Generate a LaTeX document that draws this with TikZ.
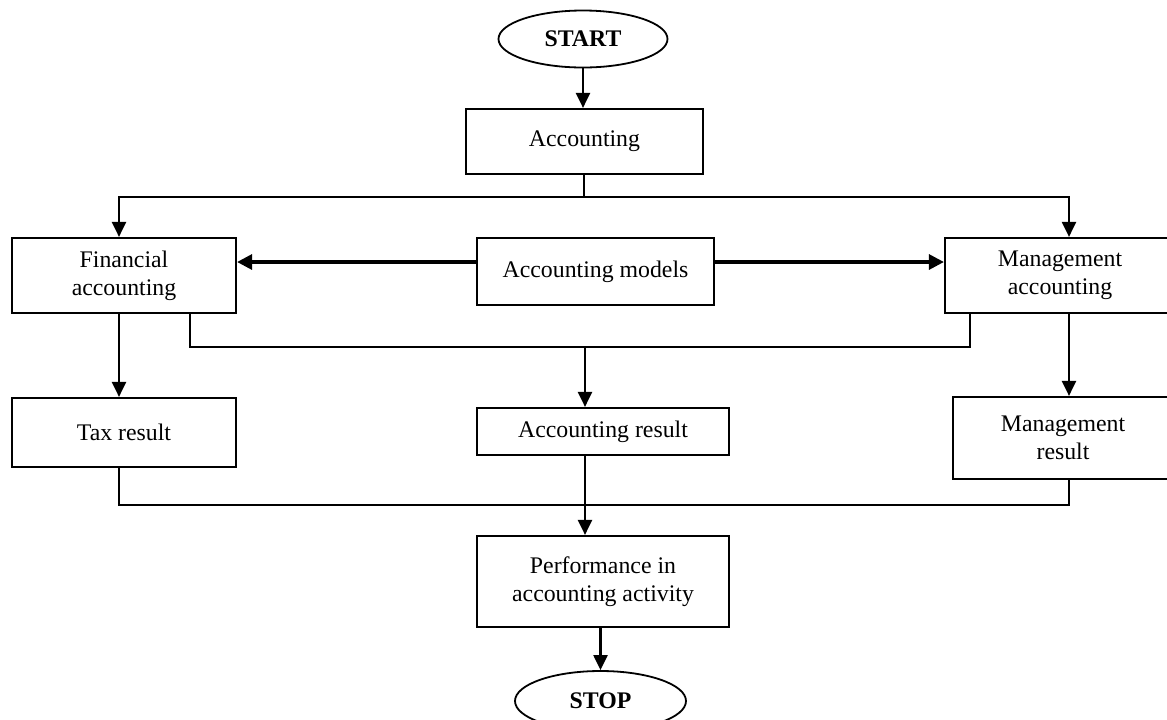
\documentclass[tikz,border=0pt]{standalone}
\usepackage{fontspec}
\setmainfont{Liberation Serif}
\usetikzlibrary{arrows.meta, positioning, shapes.geometric}

\begin{document}
\begin{tikzpicture}[x=0.5pt, y=-0.5pt,
    font=\fontsize{11.9}{14}\selectfont,
    box/.style={draw, line width=1.1pt, align=center, inner sep=0pt},
    terminal/.style={draw, ellipse, line width=0.9pt, inner sep=0pt, font=\fontsize{11.9}{14}\selectfont\bfseries},
    flow/.style={line width=1.1pt, -{Triangle[length=7.5pt, width=7pt]}},
    link/.style={line width=0.9pt},
    bigflow/.style={line width=1.6pt, -{Triangle[length=7.5pt, width=7.5pt]}},
]
    \useasboundingbox (0,0) rectangle (1167,719);

    % Terminals
    \node[terminal, minimum width=84.5pt, minimum height=28.5pt] (start) at (583,39) {START};
    \node[terminal, minimum width=85.5pt, minimum height=30pt] (stop) at (600.5,701) {STOP};

    % Boxes
    \node[box, minimum width=118.5pt, minimum height=32.5pt] (acc) at (584.5,141.5) {Accounting};
    \node[box, minimum width=112pt, minimum height=37.5pt] (fin) at (124,275.5) {Financial\\accounting};
    \node[box, minimum width=118.5pt, minimum height=33.5pt] (models) at (595.5,271.5) {Accounting models};
    \node[box, minimum width=115pt, minimum height=37.5pt] (mgmt) at (1060,275.5) {Management\\accounting};
    \node[box, minimum width=112pt, minimum height=34.5pt] (tax) at (124,432.5) {Tax result};
    \node[box, minimum width=126pt, minimum height=23.5pt] (accres) at (603,431.5) {Accounting result};
    \node[box, minimum width=110pt, minimum height=41pt] (mgmtres) at (1063,438) {Management\\result};
    \node[box, minimum width=126pt, minimum height=45.5pt] (perf) at (603,581.5) {Performance in\\accounting activity};

    % Junction points
    \coordinate (split) at (584,197);
    \coordinate (merge) at (585,347);
    \coordinate (join) at (585,505);

    % Start to accounting, then split
    \draw[flow] (start.south) -- (start.south |- acc.north);
    \draw[link] (acc.south -| split) -- (split);
    \draw[flow] (split) -| ([xshift=-2.5pt]fin.north);
    \draw[flow] (split) -| ([xshift=4.5pt]mgmt.north);

    % Accounting models feeding both branches
    \draw[bigflow] ([yshift=4.75pt]models.west) -- ([yshift=4.75pt]models.west -| fin.east);
    \draw[bigflow] ([yshift=4.75pt]models.east) -- ([yshift=4.75pt]models.east -| mgmt.west);

    % Results
    \draw[flow] ([xshift=-2.5pt]fin.south) -- ([xshift=-2.5pt]tax.north);
    \draw[flow] ([xshift=4.5pt]mgmt.south) -- ([xshift=4.5pt]mgmt.south |- mgmtres.north);
    \draw[link] ([xshift=33pt]fin.south) |- (merge) -| ([xshift=-45pt]mgmt.south);
    \draw[flow] (merge) -- (merge |- accres.north);

    % Performance and stop
    \draw[link] ([xshift=-2.5pt]tax.south) |- (join) -| ([xshift=3pt]mgmtres.south);
    \draw[flow] (accres.south -| join) -- (join |- perf.north);
    \draw[flow] (perf.south -| stop.north) -- (stop.north);
\end{tikzpicture}
\end{document}
